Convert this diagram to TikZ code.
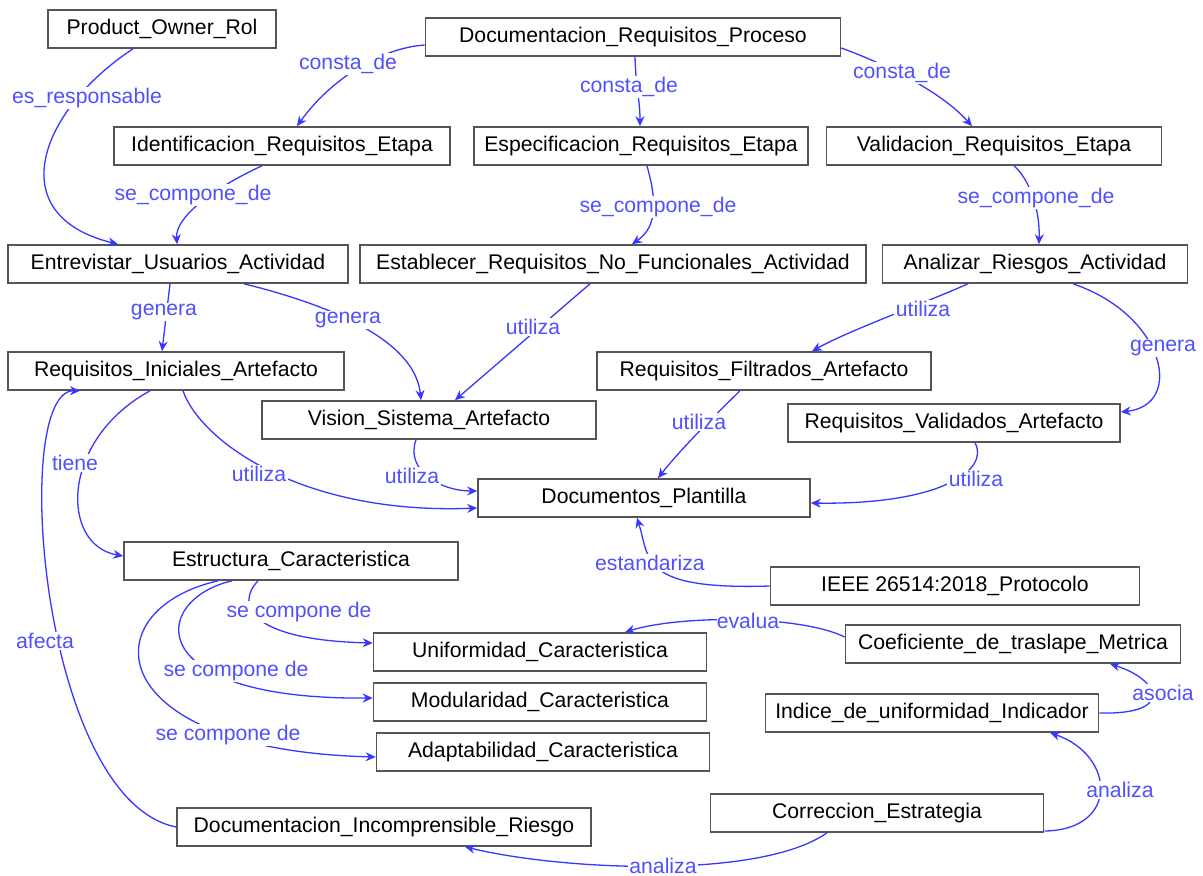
\documentclass[tikz,border=0pt]{standalone}
\usepackage{fontspec}
\setmainfont{Liberation Sans}
\usetikzlibrary{arrows.meta}
\definecolor{edgeblue}{RGB}{55,55,255}
\definecolor{lblblue}{RGB}{80,80,255}
\definecolor{boxgray}{RGB}{85,85,85}
\begin{document}
\begin{tikzpicture}[x=1pt,y=-1pt,
  box/.style={draw=boxgray, line width=1.6pt, minimum height=38pt, inner sep=0pt, font=\fontsize{21.2}{24}\selectfont, text=black},
  lbl/.style={fill=white, inner sep=1.5pt, text=lblblue, font=\fontsize{21.2}{24}\selectfont},
  e/.style={draw=edgeblue, line width=1.3pt, -{Stealth[length=10pt,width=9pt]}}]
\fill[white] (0,0) rectangle (1203,876);
\useasboundingbox (0,0) rectangle (1203,876);

% nodes
\node[box, minimum width=228pt] (po) at (162,29) {Product\_Owner\_Rol};
\node[box, minimum width=415pt] (drp) at (633,37) {Documentacion\_Requisitos\_Proceso};
\node[box, minimum width=336pt] (ire) at (282,146) {Identificacion\_Requisitos\_Etapa};
\node[box, minimum width=334pt] (ere) at (641,146) {Especificacion\_Requisitos\_Etapa};
\node[box, minimum width=335pt] (vre) at (994,146) {Validacion\_Requisitos\_Etapa};
\node[box, minimum width=340pt] (eua) at (178,264) {Entrevistar\_Usuarios\_Actividad};
\node[box, minimum width=506pt] (ernf) at (613,264) {Establecer\_Requisitos\_No\_Funcionales\_Actividad};
\node[box, minimum width=305pt] (ara) at (1035,264) {Analizar\_Riesgos\_Actividad};
\node[box, minimum width=336pt] (ria) at (176,371) {Requisitos\_Iniciales\_Artefacto};
\node[box, minimum width=334pt] (vsa) at (429,420) {Vision\_Sistema\_Artefacto};
\node[box, minimum width=334pt] (rfa) at (764,371) {Requisitos\_Filtrados\_Artefacto};
\node[box, minimum width=332pt] (rva) at (954,423) {Requisitos\_Validados\_Artefacto};
\node[box, minimum width=332pt] (dp) at (644,498) {Documentos\_Plantilla};
\node[box, minimum width=369pt] (ieee) at (955,586) {IEEE 26514:2018\_Protocolo};
\node[box, minimum width=334pt] (ec) at (291,561) {Estructura\_Caracteristica};
\node[box, minimum width=333pt] (uc) at (540,652) {Uniformidad\_Caracteristica};
\node[box, minimum width=333pt] (mc) at (540,702) {Modularidad\_Caracteristica};
\node[box, minimum width=333pt] (ac) at (543,752) {Adaptabilidad\_Caracteristica};
\node[box, minimum width=335pt] (ctm) at (1013,644) {Coeficiente\_de\_traslape\_Metrica};
\node[box, minimum width=333pt] (iui) at (932,713) {Indice\_de\_uniformidad\_Indicador};
\node[box, minimum width=333pt] (ce) at (877,813) {Correccion\_Estrategia};
\node[box, minimum width=414pt] (dir) at (384,827) {Documentacion\_Incomprensible\_Riesgo};

% edges
\draw[e] ([xshift=-29pt]po.south) .. controls (40,110) and (0,215) .. ([xshift=-60pt]eua.north);
\draw[e] ([yshift=-8pt]drp.west) .. controls (380,48) and (330,80) .. ([xshift=15pt]ire.north);
\draw[e] ([xshift=2pt]drp.south) .. controls (636,90) and (640,100) .. ([xshift=-1pt]ere.north);
\draw[e] ([yshift=-11pt]drp.east) .. controls (880,62) and (940,90) .. ([xshift=-22pt]vre.north);
\draw[e] ([xshift=-20pt]ire.south) .. controls (220,185) and (175,215) .. ([xshift=-1pt]eua.north);
\draw[e] ([xshift=6pt]ere.south) .. controls (655,195) and (660,225) .. ([xshift=19pt]ernf.north);
\draw[e] ([xshift=20pt]vre.south) .. controls (1030,180) and (1040,210) .. ([xshift=4pt]ara.north);
\draw[e] ([xshift=-8pt]eua.south) -- ([xshift=-14pt]ria.north);
\draw[e] ([xshift=66pt]eua.south) .. controls (330,305) and (415,340) .. ([xshift=-8pt]vsa.north);
\draw[e] ([xshift=-23pt]ernf.south) -- ([xshift=26pt]vsa.north);
\draw[e] ([xshift=-67pt]ara.south) .. controls (920,305) and (850,330) .. ([xshift=48pt]rfa.north);
\draw[e] ([xshift=38pt]ara.south) .. controls (1165,315) and (1185,405) .. ([yshift=11pt]rva.east);
\draw[e] ([xshift=7pt]ria.south) .. controls (200,440) and (300,515) .. ([yshift=-10pt]dp.west);
\draw[e] ([xshift=-13pt]vsa.south) .. controls (405,470) and (440,491) .. ([yshift=7pt]dp.west);
\draw[e] ([xshift=-24pt]rfa.south) .. controls (710,420) and (680,450) .. ([xshift=14pt]dp.north);
\draw[e] ([xshift=21pt]rva.south) .. controls (990,470) and (940,505) .. ([yshift=-5pt]dp.east);
\draw[e] (ieee.west) .. controls (640,590) and (650,560) .. ([xshift=-7pt]dp.south);
\draw[e] ([xshift=-26pt]ria.south) .. controls (60,440) and (60,545) .. ([yshift=5pt]ec.west);
\draw[e] ([xshift=-33pt]ec.south) .. controls (235,605) and (250,640) .. ([yshift=9pt]uc.west);
\draw[e] ([xshift=-59pt]ec.south) .. controls (150,600) and (140,700) .. ([yshift=4pt]mc.west);
\draw[e] ([xshift=-73pt]ec.south) .. controls (90,610) and (100,750) .. ([yshift=-5pt]ac.west);
\draw[e] (dir.west) .. controls (40,800) and (10,390) .. ([xshift=-96pt]ria.south);
\draw[e] ([yshift=7pt]ctm.west) .. controls (800,615) and (680,615) .. ([xshift=85pt]uc.north);
\draw[e] (iui.east) .. controls (1175,715) and (1160,680) .. ([xshift=97pt]ctm.south);
\draw[e] ([yshift=-18pt]ce.east) .. controls (1120,830) and (1115,755) .. ([xshift=118pt]iui.south);
\draw[e] ([xshift=-50pt]ce.south) .. controls (760,880) and (560,870) .. ([xshift=81pt]dir.south);

% labels
\node[lbl] (l1) at (87,98) {es\_responsable};
\node[lbl] (l2) at (348,64) {consta\_de};
\node[lbl] (l3) at (629,87) {consta\_de};
\node[lbl] (l4) at (902,73) {consta\_de};
\node[lbl] (l5) at (193,195) {se\_compone\_de};
\node[lbl] (l6) at (658,207) {se\_compone\_de};
\node[lbl] (l7) at (1036,198) {se\_compone\_de};
\node[lbl] (l8) at (164,312) {genera};
\node[lbl] (l9) at (348,320) {genera};
\node[lbl] (l10) at (533,327) {utiliza};
\node[lbl] (l11) at (923,309) {utiliza};
\node[lbl] (l12) at (1163,348) {genera};
\node[lbl] (l13) at (259,474) {utiliza};
\node[lbl] (l14) at (412,476) {utiliza};
\node[lbl] (l15) at (699,422) {utiliza};
\node[lbl] (l16) at (976,479) {utiliza};
\node[lbl] (l17) at (650,563) {estandariza};
\node[lbl] (l18) at (75,463) {tiene};
\node[lbl] (l19) at (299,612) {se compone de};
\node[lbl] (l20) at (236,671) {se compone de};
\node[lbl] (l21) at (228,735) {se compone de};
\node[lbl] (l22) at (45,641) {afecta};
\node[lbl, inner sep=0pt] (l23) at (748,621) {evalua};
\node[lbl] (l24) at (1163,693) {asocia};
\node[lbl] (l25) at (1120,790) {analiza};
\node[lbl] (l26) at (663,866) {analiza};
\end{tikzpicture}
\end{document}
